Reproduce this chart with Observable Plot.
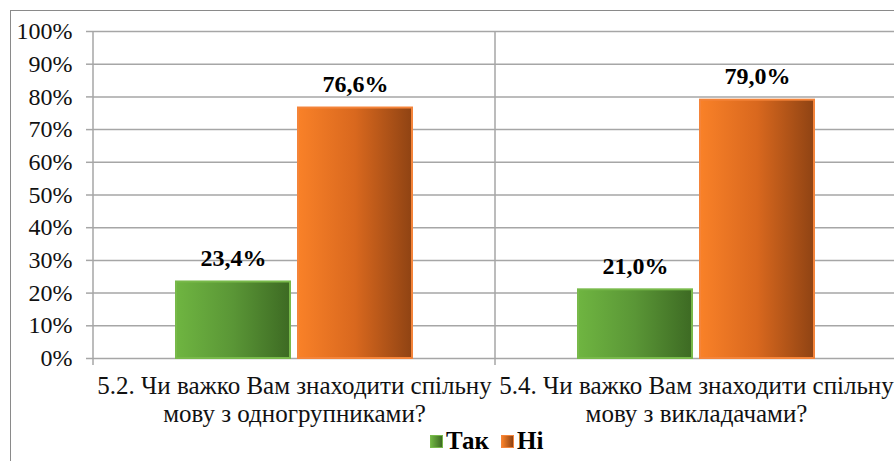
<!DOCTYPE html>
<html>
<head>
<meta charset="utf-8">
<style>
  html, body, div, span, svg, text, tspan { font-family: 'Liberation Serif', 'Times New Roman', serif; }
  body { margin: 0; background: #fff; overflow: hidden; }
  #wrap { position: relative; width: 894px; height: 461px; overflow: hidden; background: #fff; }
  #chart { position: absolute; left: 0; top: 0; }
  #frame { position: absolute; left: 10px; top: 10px; width: 1000px; height: 1000px;
           border-left: 1.5px solid #8a8a8a; border-top: 1.5px solid #8a8a8a; pointer-events: none; }
  #legend { position: absolute; left: 430px; top: 427px; display: flex; align-items: center;
            font-weight: bold; font-size: 25px; color: #000; }
  .sw { width: 11px; height: 11px; margin-right: 3px; }
  .item { display: flex; align-items: center; margin-right: 12px; }
</style>
<script src="https://cdn.jsdelivr.net/npm/d3@7"></script>
<script src="https://cdn.jsdelivr.net/npm/@observablehq/plot@0.6"></script>
</head>
<body>
<div id="wrap">
  <div id="chart"></div>
  <div id="frame"></div>
  <div id="legend"></div>
</div>
<svg width="0" height="0" style="position:absolute">
  <defs>
    <linearGradient id="gGreen" x1="0" x2="1" y1="0" y2="0">
      <stop offset="0" stop-color="#6fb541"/>
      <stop offset="0.5" stop-color="#5a9636"/>
      <stop offset="1" stop-color="#3d6a23"/>
    </linearGradient>
    <linearGradient id="gOrange" x1="0" x2="1" y1="0" y2="0">
      <stop offset="0" stop-color="#f98128"/>
      <stop offset="0.5" stop-color="#d9681e"/>
      <stop offset="1" stop-color="#8f4313"/>
    </linearGradient>
  </defs>
</svg>
<script>
// ---- data ----
const categories = [
  "5.2. Чи важко Вам знаходити спільну\nмову з одногрупниками?",
  "5.4. Чи важко Вам знаходити спільну\nмову з викладачами?"
];
const series = ["Так", "Ні"];
const yesValues = [0.234, 0.210];
const noValues = [0.766, 0.790];
const yTicks = [0, 0.1, 0.2, 0.3, 0.4, 0.5, 0.6, 0.7, 0.8, 0.9, 1.0];

// ---- table ----
const data = [];
categories.forEach((c, i) => {
  data.push({question: c, series: series[0], value: yesValues[i]});
  data.push({question: c, series: series[1], value: noValues[i]});
});

const fills = {"Так": "url(#gGreen)", "Ні": "url(#gOrange)"};
const strokes = {"Так": "#78b94a", "Ні": "#f4843a"};
const fmt = v => d3.format(".1%")(v).replace(".", ",");

const plot = Plot.plot({
  width: 894,
  height: 430,
  marginLeft: 93,
  marginRight: 0,
  marginTop: 31,
  marginBottom: 72,
  style: {fontFamily: "Liberation Serif", fontSize: "24px", color: "#000", background: "transparent", overflow: "visible", maxWidth: "none"},
  fx: {domain: categories, range: [93, 897], padding: 0, label: null},
  x: {domain: series, paddingInner: 0.0656, paddingOuter: 0.68, axis: null},
  y: {domain: [0, 1], axis: null},
  marks: [
    Plot.ruleY(yTicks, {y: d => d, stroke: "#a6a6a6", strokeWidth: 1.5}),
    Plot.axisY({ticks: yTicks, tickFormat: d3.format(".0%"), tickSize: 7, tickPadding: 14,
                stroke: "#a6a6a6", strokeWidth: 1.5, fontSize: 24, fill: "#111", label: null}),
    ...series.map(s => Plot.barY(data.filter(d => d.series === s), {
      fx: "question", x: "series", y: "value",
      fill: fills[s], stroke: strokes[s], strokeWidth: 2
    })),
    Plot.text(data, {fx: "question", x: "series", y: "value", text: d => fmt(d.value),
      dy: -24, fontWeight: "bold", fontSize: 24, fill: "#000"}),
    Plot.axisFx({anchor: "bottom", tickSize: 0, tickPadding: 16, fontSize: 25, lineHeight: 1.1,
                 fill: "#111", label: null})
  ]
});
document.getElementById("chart").appendChild(plot);

const svg = d3.select(plot);

// category separators drawn from the library's scales
const fxS = plot.scale("fx");
const yS = plot.scale("y");
const edges = categories.map(c => fxS.apply(c));
edges.push(fxS.apply(categories[categories.length - 1]) + fxS.bandwidth);
svg.append("g").selectAll("line").data(edges).join("line")
  .attr("x1", d => d).attr("x2", d => d)
  .attr("y1", yS.apply(1)).attr("y2", yS.apply(0) + 7)
  .attr("stroke", "#a6a6a6").attr("stroke-width", 1.5);

// legend
const legend = d3.select("#legend");
series.forEach(s => {
  const it = legend.append("div").attr("class", "item");
  it.append("div").attr("class", "sw")
    .style("background", s === "Так" ? "linear-gradient(to right,#6fb541,#3d6a23)" : "linear-gradient(to right,#f98128,#8f4313)")
    .style("border", "1px solid " + strokes[s]);
  it.append("span").text(s);
});
</script>
</body>
</html>
